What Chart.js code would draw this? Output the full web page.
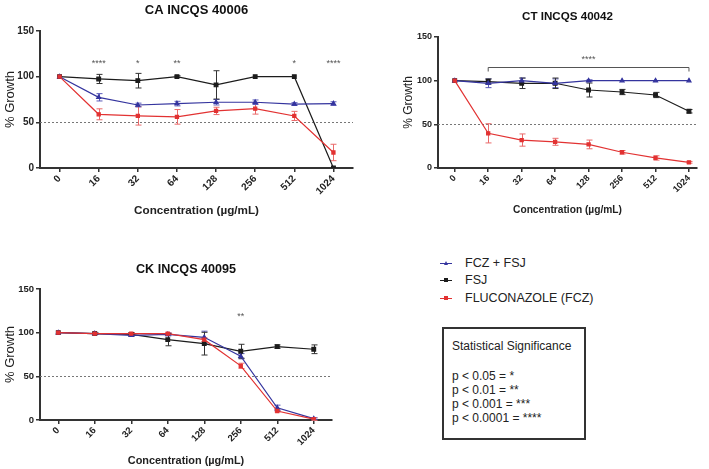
<!DOCTYPE html>
<html><head><meta charset="utf-8">
<script src="https://cdn.jsdelivr.net/npm/chart.js@4.4.1/dist/chart.umd.min.js"></script>
<style>
html,body{margin:0;padding:0;background:#fff;}
body{width:709px;height:469px;position:relative;overflow:hidden;font-family:"Liberation Sans",Arial,sans-serif;color:#222;}
canvas{position:absolute;}
.lg{position:absolute;left:440px;height:14px;line-height:14px;font-size:12.5px;}
.lg .ln{position:absolute;left:0;top:7px;width:12px;height:1px;}
.lg .mk{position:absolute;left:4px;top:5px;width:4px;height:4px;}
.lg .tx{position:absolute;left:25px;top:0;white-space:nowrap;}
#box{position:absolute;left:442px;top:327px;width:140px;height:109px;border:2px solid #333;}
.bt{position:absolute;left:8px;font-size:12px;line-height:14px;white-space:nowrap;}
</style></head>
<body>
<canvas id="ca" width="365" height="225" style="left:0;top:0;width:365px;height:225px"></canvas>
<canvas id="ct" width="329" height="225" style="left:380px;top:0;width:329px;height:225px"></canvas>
<canvas id="ck" width="360" height="229" style="left:0;top:240px;width:360px;height:229px"></canvas>
<div id="legend"></div>
<div id="box"></div>
<script>
// ---------- data ----------
const concentrations = ['0','16','32','64','128','256','512','1024'];
const seriesNames = ['FCZ + FSJ','FSJ','FLUCONAZOLE (FCZ)'];
const seriesColors = ['#34349e','#1c1c1c','#e23232'];
const errorColors = ['#5a5ab8','#333333','#ea6a6a'];

// CA INCQS 40006
const caFczFsj    = [100, 77.4, 69, 70.5, 72, 72, 70, 70.5];
const caFczFsjErr = [0, 4, 2, 2.5, 3, 2.5, 1.5, 2];
const caFsj       = [100, 97.5, 95.6, 100, 91, 100, 100, 0];
const caFsjErr    = [0, 5, 8, 1, 15.5, 0, 0, 0];
const caFcz       = [100, 58.8, 57, 56, 62.5, 65, 57, 17];
const caFczErr    = [0, 6, 10, 8, 4, 6, 5, 9];
const caStars     = ['', '****', '*', '**', '', '', '*', '****'];
const caStarLevel = 117;

// CT INCQS 40042
const ctFczFsj    = [100, 97, 100, 97, 100, 100, 100, 100];
const ctFczFsjErr = [0, 5, 3, 5, 1, 0, 0, 0];
const ctFsj       = [100, 99, 97, 97, 89.3, 87, 83.6, 65];
const ctFsjErr    = [0, 3, 6, 6, 8, 3, 3, 2];
const ctFcz       = [100, 39.7, 32, 30, 27, 18, 11.5, 6.5];
const ctFczErr    = [0, 11, 7, 4, 5, 2, 2.5, 1];
const ctBracket   = [1, 7];      // category index range
const ctBracketLevel = 116;
const ctBracketLabel = '****';
const ctBracketLabelLevel = 126;

// CK INCQS 40095
const ckFczFsj    = [100, 99, 97, 98, 94.7, 73, 14, 1.5];
const ckFczFsjErr = [0, 0.5, 1, 1.5, 7, 3, 3, 1];
const ckFsj       = [100, 99, 98, 92, 87.4, 78.7, 84, 81];
const ckFsjErr    = [0, 0.5, 2, 7, 13, 8, 2, 5];
const ckFcz       = [100, 99, 99, 99, 92, 62, 10.3, 1];
const ckFczErr    = [0, 0.5, 1, 1, 2, 3, 1, 1.5];
const ckStars     = ['', '', '', '', '', '**', '', ''];
const ckStarLevel = 121;

const yTicks = [0, 50, 100, 150];
const refLevel = 50;
const sigTitle = 'Statistical Significance';
const sigLines = ['p < 0.05 = *', 'p < 0.01 = **', 'p < 0.001 = ***', 'p < 0.0001 = ****'];

// ---------- helpers ----------
const FF = '"Liberation Sans", Arial, sans-serif';

const decoPlugin = {
  id: 'deco',
  beforeDatasetsDraw(chart, args, o) {
    const {ctx, chartArea: a} = chart;
    const x = chart.scales.x, y = chart.scales.y;
    ctx.save();
    ctx.strokeStyle = '#777'; ctx.lineWidth = 1; ctx.setLineDash([2, 2]);
    const yy = Math.round(y.getPixelForValue(refLevel)) + 0.5;
    ctx.beginPath(); ctx.moveTo(a.left, yy); ctx.lineTo(a.right, yy); ctx.stroke();
    ctx.restore();
    chart.data.datasets.forEach(ds => {
      if (!ds.errors) return;
      ctx.save();
      ctx.strokeStyle = ds.errorColor; ctx.lineWidth = 1;
      ds.data.forEach((p, i) => {
        const e = ds.errors[i]; if (!e) return;
        const px = Math.round(x.getPixelForValue(p.x)) + 0.5;
        const y1 = y.getPixelForValue(p.y - e), y2 = y.getPixelForValue(p.y + e);
        ctx.beginPath();
        ctx.moveTo(px, y1); ctx.lineTo(px, y2);
        ctx.moveTo(px - 3, y1); ctx.lineTo(px + 3, y1);
        ctx.moveTo(px - 3, y2); ctx.lineTo(px + 3, y2);
        ctx.stroke();
      });
      ctx.restore();
    });
  },
  afterDraw(chart, args, o) {
    const {ctx, chartArea: a} = chart;
    const x = chart.scales.x, y = chart.scales.y;
    ctx.save();
    ctx.fillStyle = '#111';
    ctx.font = 'bold ' + o.titleSize + 'px ' + FF;
    ctx.textAlign = 'center'; ctx.textBaseline = 'middle';
    ctx.fillText(o.title, (a.left + a.right) / 2, o.titleY);
    ctx.fillStyle = '#555';
    ctx.font = '9px ' + FF;
    if (o.stars) {
      o.stars.forEach((s, i) => {
        if (!s) return;
        ctx.fillText(s, x.getPixelForValue(i), y.getPixelForValue(o.starLevel) + 2);
      });
    }
    if (o.bracket) {
      const x1 = x.getPixelForValue(o.bracket[0]), x2 = x.getPixelForValue(o.bracket[1]);
      const by = Math.round(y.getPixelForValue(o.bracketLevel)) + 0.5;
      ctx.strokeStyle = '#555'; ctx.lineWidth = 1;
      ctx.beginPath();
      ctx.moveTo(x1, by + 4); ctx.lineTo(x1, by); ctx.lineTo(x2, by); ctx.lineTo(x2, by + 4);
      ctx.stroke();
      ctx.fillText(o.bracketLabel, (x1 + x2) / 2, y.getPixelForValue(o.bracketLabelLevel) + 2);
    }
    ctx.restore();
  }
};

function series(vals, errs, k) {
  const styles = ['triangle', 'rect', 'rect'];
  const radii = [2.3, 2.6, 2.2];
  return {
    label: seriesNames[k],
    data: vals.map((v, i) => ({x: i, y: v})),
    errors: errs,
    errorColor: errorColors[k],
    borderColor: seriesColors[k],
    backgroundColor: seriesColors[k],
    pointBackgroundColor: seriesColors[k],
    pointBorderColor: seriesColors[k],
    pointStyle: styles[k],
    pointRadius: radii[k],
    borderWidth: 1.2,
    tension: 0
  };
}

function makePanel(id, p) {
  new Chart(document.getElementById(id), {
    type: 'line',
    data: {
      // red drawn on top, then blue, then black
      datasets: [
        series(p.fcz, p.fczErr, 2),
        series(p.fczFsj, p.fczFsjErr, 0),
        series(p.fsj, p.fsjErr, 1)
      ]
    },
    options: {
      responsive: false, animation: false, events: [],
      layout: {padding: p.pad},
      plugins: {
        legend: {display: false}, tooltip: {enabled: false},
        deco: p.deco
      },
      scales: {
        x: {
          type: 'linear', min: -0.5, max: p.xMax,
          afterBuildTicks: s => { s.ticks = concentrations.map((c, i) => ({value: i})); },
          afterFit: s => { s.height = p.xH; },
          ticks: {
            autoSkip: false, minRotation: 45, maxRotation: 45, padding: 1,
            color: '#222', font: {family: FF, weight: 'bold', size: p.tickSize},
            callback: v => concentrations[v]
          },
          grid: {drawOnChartArea: false, drawTicks: true, tickLength: 4, color: '#333', lineWidth: 1.5},
          border: {width: 2, color: '#333'},
          title: {display: true, text: 'Concentration (µg/mL)', color: '#222',
                  font: {family: FF, weight: 'bold', size: p.axisTitleSize},
                  padding: {top: 0, bottom: p.xTitlePad}}
        },
        y: {
          min: 0, max: 150,
          afterBuildTicks: s => { s.ticks = yTicks.map(v => ({value: v})); },
          afterFit: s => { s.width = 40; },
          ticks: {padding: 2, color: '#222', font: {family: FF, weight: 'bold', size: p.tickSize}},
          grid: {drawOnChartArea: false, drawTicks: true, tickLength: 4, color: '#333', lineWidth: 1.5},
          border: {width: 2, color: '#333'},
          title: {display: true, text: '% Growth', color: '#222',
                  font: {family: FF, size: p.yTitleSize},
                  padding: {top: 3, bottom: 0}}
        }
      }
    },
    plugins: [decoPlugin]
  });
}

makePanel('ca', {
  fczFsj: caFczFsj, fczFsjErr: caFczFsjErr, fsj: caFsj, fsjErr: caFsjErr, fcz: caFcz, fczErr: caFczErr,
  xMax: 7.5, xH: 57, pad: {top: 31, left: 0, right: 12, bottom: 0},
  tickSize: 10, axisTitleSize: 11.7, yTitleSize: 13, xTitlePad: 7,
  deco: {title: 'CA INCQS 40006', titleSize: 13, titleY: 10, stars: caStars, starLevel: caStarLevel}
});
makePanel('ct', {
  fczFsj: ctFczFsj, fczFsjErr: ctFczFsjErr, fsj: ctFsj, fsjErr: ctFsjErr, fcz: ctFcz, fczErr: ctFczErr,
  xMax: 7.24, xH: 57, pad: {top: 37, left: 18, right: 12, bottom: 0},
  tickSize: 9, axisTitleSize: 10.2, yTitleSize: 12, xTitlePad: 9,
  deco: {title: 'CT INCQS 40042', titleSize: 11.6, titleY: 17,
         bracket: ctBracket, bracketLevel: ctBracketLevel, bracketLabel: ctBracketLabel, bracketLabelLevel: ctBracketLabelLevel}
});
makePanel('ck', {
  fczFsj: ckFczFsj, fczFsjErr: ckFczFsjErr, fsj: ckFsj, fsjErr: ckFsjErr, fcz: ckFcz, fczErr: ckFczErr,
  xMax: 7.5, xH: 49, pad: {top: 49, left: 0, right: 28, bottom: 0},
  tickSize: 9.5, axisTitleSize: 10.9, yTitleSize: 13, xTitlePad: 1,
  deco: {title: 'CK INCQS 40095', titleSize: 12.6, titleY: 30, stars: ckStars, starLevel: ckStarLevel}
});

// ---------- legend & significance box (HTML text) ----------
const legendTops = [256, 273, 291];
const legendOrder = [0, 1, 2];
const lg = document.getElementById('legend');
legendOrder.forEach((k, r) => {
  const d = document.createElement('div');
  d.className = 'lg'; d.style.top = legendTops[r] + 'px';
  const shape = k === 0 ? 'border-left:2.5px solid transparent;border-right:2.5px solid transparent;border-bottom:4px solid ' + seriesColors[k] + ';width:0;height:0;background:none;'
                        : 'background:' + seriesColors[k] + ';';
  d.innerHTML = '<div class="ln" style="background:' + seriesColors[k] + '"></div>' +
                '<div class="mk" style="' + shape + '"></div>' +
                '<div class="tx">' + seriesNames[k] + '</div>';
  lg.appendChild(d);
});
const box = document.getElementById('box');
const bTops = [10, 40, 54, 68, 82];
[sigTitle].concat(sigLines).forEach((t, i) => {
  const d = document.createElement('div');
  d.className = 'bt'; d.style.top = bTops[i] + 'px'; d.textContent = t;
  box.appendChild(d);
});
</script>
</body></html>
